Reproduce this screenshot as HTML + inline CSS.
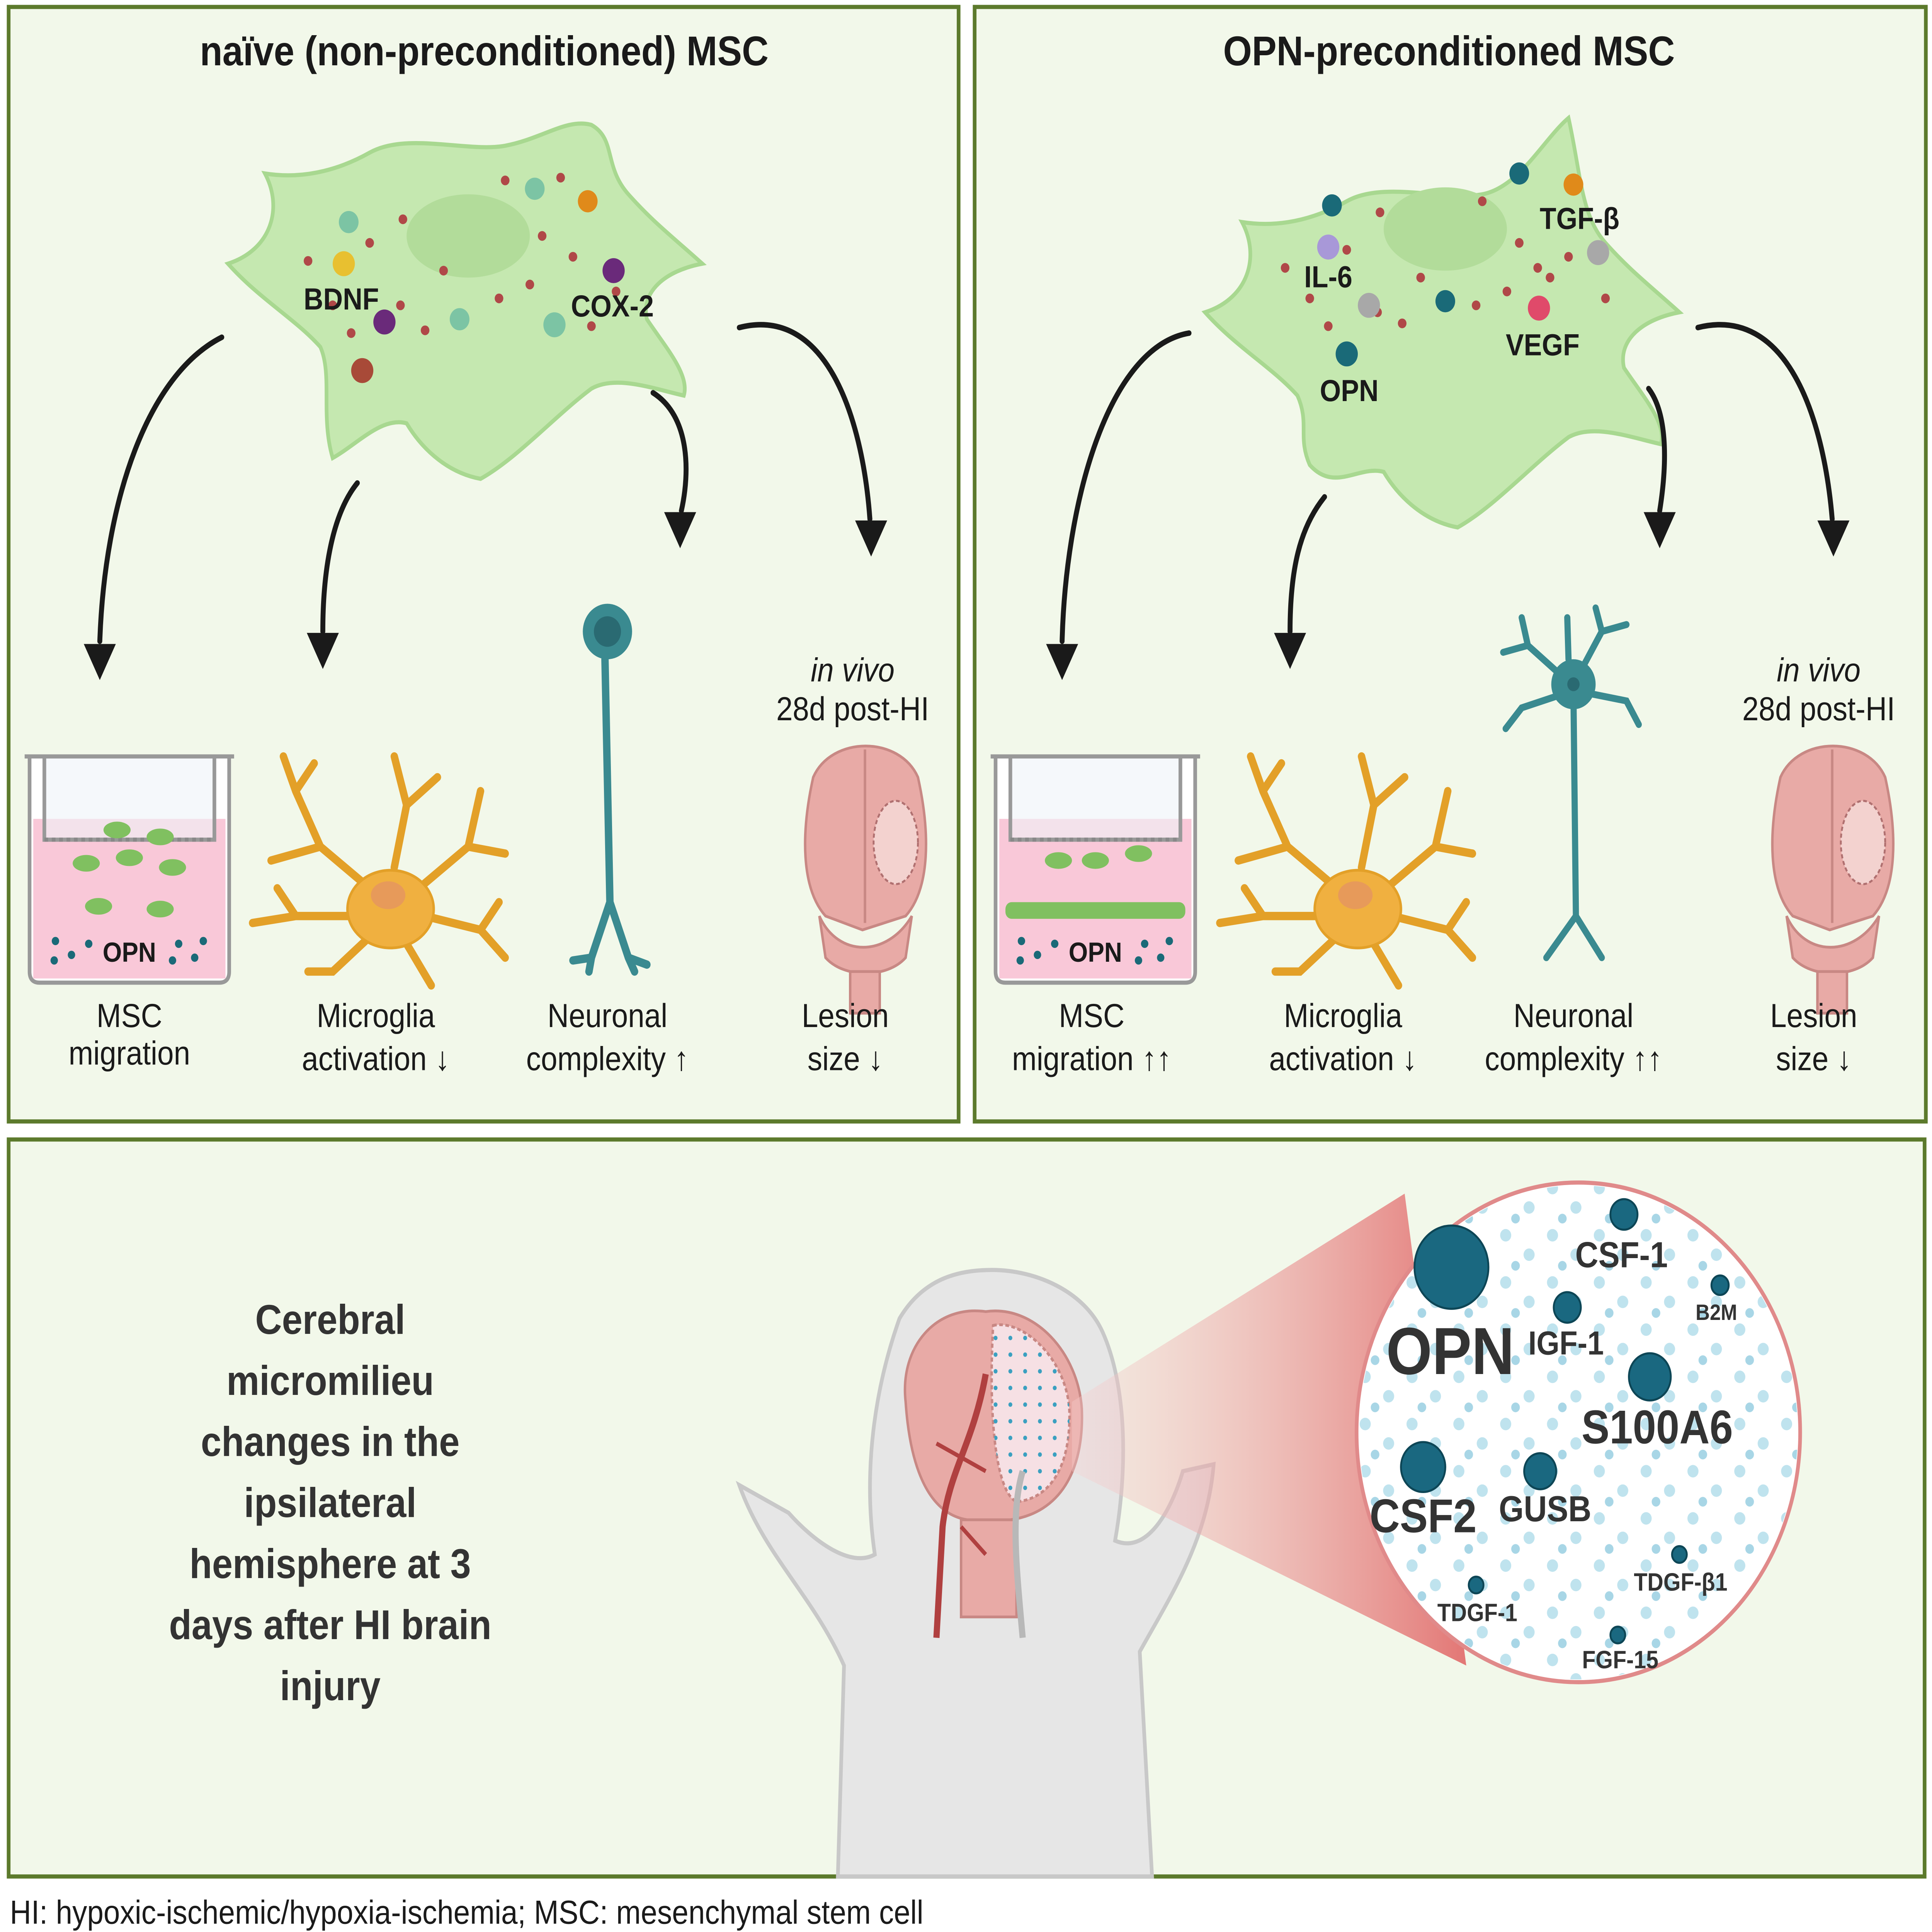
<!DOCTYPE html>
<html><head><meta charset="utf-8"><style>
html,body{margin:0;padding:0;background:#fff;width:100%;height:100%;overflow:hidden}
svg{display:block;width:100vw;height:100vh}
text{font-family:"Liberation Sans",Arial,sans-serif}
</style></head><body>
<svg viewBox="0 0 1568 1392" preserveAspectRatio="none" xmlns="http://www.w3.org/2000/svg">
<defs>
<pattern id="dots" width="38" height="34" patternUnits="userSpaceOnUse">
<circle cx="6" cy="6" r="4.5" fill="#bfe3ee"/><circle cx="25" cy="20" r="4.5" fill="#bfe3ee"/><circle cx="14" cy="28" r="3.5" fill="#a8d6e6"/>
</pattern>
<pattern id="sdots" width="12" height="12" patternUnits="userSpaceOnUse"><circle cx="4" cy="4" r="1.6" fill="#3aa0c0"/></pattern>
<linearGradient id="cone" x1="0" x2="1"><stop offset="0" stop-color="#f6d0d0" stop-opacity="0.4"/><stop offset="1" stop-color="#e06060"/></linearGradient>
<g id="arrowhead"><polygon points="-13,0 13,0 0,26" fill="#1a1a1a"/></g>
</defs>
<rect width="1568" height="1392" fill="#fff"/>
<rect x="7" y="5" width="771" height="803" fill="#f2f8ea" stroke="#5c7a2c" stroke-width="3"/>
<rect x="791" y="5" width="772" height="803" fill="#f2f8ea" stroke="#5c7a2c" stroke-width="3"/>
<rect x="7" y="821" width="1555" height="531" fill="#f2f8ea" stroke="#5c7a2c" stroke-width="3"/>
<text x="393" y="47" font-size="30" font-weight="bold" text-anchor="middle" fill="#1a1a1a">naïve (non-preconditioned) MSC</text>
<text x="1176" y="47" font-size="30" font-weight="bold" text-anchor="middle" fill="#1a1a1a">OPN-preconditioned MSC</text>

<g>
<path d="M185,190 C220,180 230,150 215,125 C250,130 280,120 300,110 C330,95 380,110 410,105 C440,100 460,85 480,90 C500,100 490,120 510,140 C530,160 545,170 570,190 C540,195 520,210 525,230 C540,250 560,270 555,285 C530,280 500,270 480,280 C450,300 420,330 390,345 C360,340 340,320 330,305 C310,300 290,320 270,330 C260,300 270,270 260,250 C240,230 210,215 185,190 Z" fill="#c5e8b0" stroke="#a8d890" stroke-width="3"/>
<ellipse cx="380" cy="170" rx="50" ry="30" fill="#b2dc9a"/>
<g fill="#b04848"><circle cx="250" cy="188" r="3.5"/><circle cx="300" cy="175" r="3.5"/><circle cx="327" cy="158" r="3.5"/><circle cx="410" cy="130" r="3.5"/><circle cx="455" cy="128" r="3.5"/><circle cx="465" cy="185" r="3.5"/><circle cx="430" cy="205" r="3.5"/><circle cx="405" cy="215" r="3.5"/><circle cx="345" cy="238" r="3.5"/><circle cx="285" cy="240" r="3.5"/><circle cx="270" cy="220" r="3.5"/><circle cx="325" cy="220" r="3.5"/><circle cx="480" cy="235" r="3.5"/><circle cx="500" cy="210" r="3.5"/><circle cx="360" cy="195" r="3.5"/><circle cx="440" cy="170" r="3.5"/></g>
<circle cx="283" cy="160" r="8" fill="#7cc4a4"/><circle cx="434" cy="136" r="8" fill="#7cc4a4"/><circle cx="373" cy="230" r="8" fill="#7cc4a4"/><circle cx="450" cy="234" r="9" fill="#7cc4a4"/>
<circle cx="477" cy="145" r="8" fill="#e08a1a"/><circle cx="279" cy="190" r="9" fill="#e8c030"/><circle cx="498" cy="195" r="9" fill="#6a2a7a"/><circle cx="312" cy="232" r="9" fill="#6a2a7a"/><circle cx="294" cy="267" r="9" fill="#a84a38"/>
<text x="277" y="223" font-size="22" font-weight="bold" text-anchor="middle" fill="#1a1a1a">BDNF</text>
<text x="497" y="228" font-size="22" font-weight="bold" text-anchor="middle" fill="#1a1a1a">COX-2</text>
</g>
<g transform="translate(793,35)">
<path d="M185,190 C220,180 230,150 215,125 C250,130 280,120 300,110 C330,95 380,110 410,105 C440,100 460,65 480,50 C490,90 490,120 510,140 C530,160 545,170 570,190 C540,195 520,210 525,230 C540,250 560,270 555,285 C530,280 500,270 480,280 C450,300 420,330 390,345 C360,340 340,320 330,305 C310,300 290,320 270,300 C260,280 270,270 260,250 C240,230 210,215 185,190 Z" fill="#c5e8b0" stroke="#a8d890" stroke-width="3"/>
<ellipse cx="380" cy="130" rx="50" ry="30" fill="#b2dc9a"/>
<g fill="#b04848"><circle cx="250" cy="158" r="3.5"/><circle cx="300" cy="145" r="3.5"/><circle cx="327" cy="118" r="3.5"/><circle cx="410" cy="110" r="3.5"/><circle cx="455" cy="158" r="3.5"/><circle cx="465" cy="165" r="3.5"/><circle cx="430" cy="175" r="3.5"/><circle cx="405" cy="185" r="3.5"/><circle cx="345" cy="198" r="3.5"/><circle cx="285" cy="200" r="3.5"/><circle cx="270" cy="180" r="3.5"/><circle cx="325" cy="190" r="3.5"/><circle cx="480" cy="150" r="3.5"/><circle cx="510" cy="180" r="3.5"/><circle cx="360" cy="165" r="3.5"/><circle cx="440" cy="140" r="3.5"/></g>
<circle cx="288" cy="113" r="8" fill="#1a6a78"/><circle cx="440" cy="90" r="8" fill="#1a6a78"/><circle cx="380" cy="182" r="8" fill="#1a6a78"/><circle cx="300" cy="220" r="9" fill="#1a6a78"/>
<circle cx="484" cy="98" r="8" fill="#e08a1a"/><circle cx="285" cy="143" r="9" fill="#a898d8"/><circle cx="318" cy="185" r="9" fill="#a8a8a8"/><circle cx="504" cy="147" r="9" fill="#a8a8a8"/><circle cx="456" cy="187" r="9" fill="#e04a6a"/>
</g>
<text x="1078" y="207" font-size="22" font-weight="bold" text-anchor="middle" fill="#1a1a1a">IL-6</text>
<text x="1282" y="165" font-size="22" font-weight="bold" text-anchor="middle" fill="#1a1a1a">TGF-β</text>
<text x="1252" y="256" font-size="22" font-weight="bold" text-anchor="middle" fill="#1a1a1a">VEGF</text>
<text x="1095" y="289" font-size="22" font-weight="bold" text-anchor="middle" fill="#1a1a1a">OPN</text>

<g fill="none" stroke="#1a1a1a" stroke-width="4" stroke-linecap="round">
<path d="M180,243 C120,270 85,360 81,462"/>
<path d="M290,348 C270,370 262,410 262,455"/>
<path d="M530,283 C560,300 560,340 553,368"/>
<path d="M600,236 C670,220 700,300 706,374"/>
<path d="M965,240 C900,250 865,360 862,462"/>
<path d="M1075,358 C1055,380 1047,410 1047,455"/>
<path d="M1338,280 C1355,300 1352,340 1347,368"/>
<path d="M1378,236 C1450,220 1480,300 1487,374"/>
</g>
<use href="#arrowhead" x="81" y="464"/><use href="#arrowhead" x="262" y="456"/><use href="#arrowhead" x="552" y="369"/><use href="#arrowhead" x="707" y="375"/>
<use href="#arrowhead" x="862" y="464"/><use href="#arrowhead" x="1047" y="456"/><use href="#arrowhead" x="1347" y="369"/><use href="#arrowhead" x="1488" y="375"/>

<g id="tw">
<path d="M24,545 L24,700 Q24,708 32,708 L178,708 Q186,708 186,700 L186,545" fill="#fff" stroke="#999" stroke-width="3"/>
<rect x="27" y="590" width="156" height="115" fill="#f9c8d8"/>
<path d="M36,545 L36,605 L174,605 L174,545" fill="#eef3f8" stroke="#999" stroke-width="3" fill-opacity="0.6"/>
<line x1="20" y1="545" x2="190" y2="545" stroke="#999" stroke-width="3"/>
<line x1="36" y1="605" x2="174" y2="605" stroke="#888" stroke-width="3" stroke-dasharray="3 3"/>
</g>
<g fill="#80c060"><ellipse cx="95" cy="598" rx="11" ry="6"/><ellipse cx="130" cy="603" rx="11" ry="6"/><ellipse cx="70" cy="622" rx="11" ry="6"/><ellipse cx="105" cy="618" rx="11" ry="6"/><ellipse cx="140" cy="625" rx="11" ry="6"/><ellipse cx="80" cy="653" rx="11" ry="6"/><ellipse cx="130" cy="655" rx="11" ry="6"/></g>
<g fill="#1a6a78"><circle cx="45" cy="678" r="3"/><circle cx="58" cy="688" r="3"/><circle cx="72" cy="680" r="3"/><circle cx="44" cy="692" r="3"/><circle cx="145" cy="680" r="3"/><circle cx="158" cy="690" r="3"/><circle cx="165" cy="678" r="3"/><circle cx="140" cy="692" r="3"/></g>
<text x="105" y="693" font-size="20" font-weight="bold" text-anchor="middle" fill="#1a1a1a">OPN</text>
<g transform="translate(784,0)">
<use href="#tw"/>
<g fill="#80c060"><ellipse cx="75" cy="620" rx="11" ry="6"/><ellipse cx="105" cy="620" rx="11" ry="6"/><ellipse cx="140" cy="615" rx="11" ry="6"/><rect x="32" y="650" width="146" height="12" rx="5"/></g>
<g fill="#1a6a78"><circle cx="45" cy="678" r="3"/><circle cx="58" cy="688" r="3"/><circle cx="72" cy="680" r="3"/><circle cx="44" cy="692" r="3"/><circle cx="145" cy="680" r="3"/><circle cx="158" cy="690" r="3"/><circle cx="165" cy="678" r="3"/><circle cx="140" cy="692" r="3"/></g>
<text x="105" y="693" font-size="20" font-weight="bold" text-anchor="middle" fill="#1a1a1a">OPN</text>
</g>

<g id="mg" stroke="#e3a028" stroke-width="6" fill="none" stroke-linecap="round">
<path d="M300,640 L260,610 L240,570 M260,610 L220,620 M240,570 L255,550 M240,570 L230,545"/>
<path d="M320,625 L330,580 L320,545 M330,580 L355,560"/>
<path d="M340,640 L380,610 L390,570 M380,610 L410,615"/>
<path d="M345,660 L390,670 L410,690 M390,670 L405,650"/>
<path d="M330,680 L350,710 M300,675 L270,700 L250,700 M290,660 L240,660 L205,665 M240,660 L225,640"/>
<ellipse cx="317" cy="655" rx="35" ry="28" fill="#f0b040" stroke="#e3a028" stroke-width="2"/>
<ellipse cx="315" cy="645" rx="14" ry="10" fill="#e79a5a" stroke="none"/>
</g>
<use href="#mg" x="785" y="0"/>

<path d="M491,475 L495,650 M495,650 L480,690 M495,650 L510,690 M480,690 L465,692 M480,690 L478,700 M510,690 L525,695 M510,690 L515,700" stroke="#3a8a90" stroke-width="6" fill="none" stroke-linecap="round"/>
<circle cx="493" cy="455" r="20" fill="#3a8a90"/><circle cx="493" cy="455" r="11" fill="#2a6a72"/>
<g stroke="#3a8a90" stroke-width="5" fill="none" stroke-linecap="round">
<path d="M1277,500 L1279,660 M1279,660 L1255,690 M1279,660 L1300,690"/>
<path d="M1265,485 L1240,465 L1220,470 M1240,465 L1235,445 M1285,480 L1300,455 L1320,450 M1300,455 L1295,438 M1292,500 L1320,505 L1330,522 M1262,502 L1235,510 L1222,525 M1273,475 L1272,445"/>
</g>
<circle cx="1277" cy="493" r="18" fill="#3a8a90"/><circle cx="1277" cy="493" r="5" fill="#2a6a72"/>

<g id="br">
<path d="M660,560 C650,600 650,640 670,660 L700,670 L735,660 C755,640 755,600 745,560 C730,530 675,530 660,560 Z" fill="#e8aaa6" stroke="#c88884" stroke-width="2"/>
<line x1="702" y1="540" x2="702" y2="665" stroke="#c88884" stroke-width="2"/>
<path d="M665,660 C680,690 720,690 740,660 L735,690 C720,705 685,705 670,690 Z" fill="#e8aaa6" stroke="#c88884" stroke-width="2"/>
<rect x="690" y="700" width="24" height="30" fill="#e8aaa6" stroke="#c88884" stroke-width="2"/>
</g>
<ellipse cx="727" cy="607" rx="18" ry="30" fill="#f3d2cf" stroke="#b07070" stroke-width="1.5" stroke-dasharray="3 2"/>
<use href="#br" x="785" y="0"/>
<ellipse cx="1512" cy="607" rx="18" ry="30" fill="#f3d2cf" stroke="#b07070" stroke-width="1.5" stroke-dasharray="3 2"/>

<g font-size="24" text-anchor="middle" fill="#1a1a1a">
<text x="692" y="491" font-style="italic">in vivo</text><text x="692" y="519">28d post-HI</text>
<text x="1476" y="491" font-style="italic">in vivo</text><text x="1476" y="519">28d post-HI</text>
<text x="105" y="740">MSC</text><text x="105" y="767">migration</text>
<text x="305" y="740">Microglia</text><text x="305" y="771">activation ↓</text>
<text x="493" y="740">Neuronal</text><text x="493" y="771">complexity ↑</text>
<text x="686" y="740">Lesion</text><text x="686" y="771">size ↓</text>
<text x="886" y="740">MSC</text><text x="886" y="771">migration ↑↑</text>
<text x="1090" y="740">Microglia</text><text x="1090" y="771">activation ↓</text>
<text x="1277" y="740">Neuronal</text><text x="1277" y="771">complexity ↑↑</text>
<text x="1472" y="740">Lesion</text><text x="1472" y="771">size ↓</text>
</g>

<g font-size="30" font-weight="bold" text-anchor="middle" fill="#333">
<text x="268" y="961">Cerebral</text><text x="268" y="1005">micromilieu</text><text x="268" y="1049">changes in the</text><text x="268" y="1093">ipsilateral</text><text x="268" y="1137">hemisphere at 3</text><text x="268" y="1181">days after HI brain</text><text x="268" y="1225">injury</text>
</g>

<g fill="#e6e6e6" stroke="#c8c8c8" stroke-width="3">
<path d="M680,1352 L685,1200 C660,1150 620,1120 600,1070 L640,1090 C660,1110 690,1130 710,1120 C700,1060 710,1000 730,950 C750,920 780,915 805,915 C840,915 880,930 895,960 C915,1000 915,1060 905,1110 C930,1120 950,1090 960,1060 L985,1055 C980,1110 950,1150 925,1190 L935,1352 Z"/>
</g>
<path d="M735,1010 C730,970 760,940 800,945 C840,940 875,975 878,1015 C880,1060 860,1090 820,1095 L785,1095 C750,1090 738,1050 735,1010 Z" fill="#e8aaa6" stroke="#c88884" stroke-width="2"/>
<path d="M806,955 C830,950 868,980 868,1020 C868,1060 850,1080 825,1082 C808,1075 802,1020 806,955 Z" fill="#f6e0e4" stroke="#c88884" stroke-width="2" stroke-dasharray="3 2"/>
<path d="M806,955 C830,950 868,980 868,1020 C868,1060 850,1080 825,1082 C808,1075 802,1020 806,955 Z" fill="url(#sdots)"/>
<rect x="780" y="1095" width="45" height="70" fill="#e8aaa6" stroke="#c88884" stroke-width="2"/>
<path d="M800,990 C790,1040 770,1060 765,1100 L760,1180" stroke="#b04040" stroke-width="5" fill="none"/>
<path d="M830,1060 C820,1090 825,1130 830,1180" stroke="#b8b8b8" stroke-width="5" fill="none"/>
<path d="M760,1040 L800,1060 M780,1100 L800,1120" stroke="#b04040" stroke-width="3" fill="none"/>

<polygon points="870,1010 1140,860 1190,1200 870,1060" fill="url(#cone)" opacity="0.85"/>
<circle cx="1281" cy="1032" r="180" fill="#fff" stroke="#e08a8a" stroke-width="3"/>
<circle cx="1281" cy="1032" r="178" fill="url(#dots)"/>
<g fill="#1a6880" stroke="#0d4656" stroke-width="1.5">
<circle cx="1178" cy="913" r="30"/><circle cx="1318" cy="875" r="11"/><circle cx="1396" cy="926" r="7"/><circle cx="1272" cy="942" r="11"/><circle cx="1339" cy="992" r="17"/><circle cx="1155" cy="1057" r="18"/><circle cx="1250" cy="1060" r="13"/><circle cx="1363" cy="1120" r="6"/><circle cx="1198" cy="1142" r="6"/><circle cx="1313" cy="1178" r="6"/>
</g>
<g font-weight="bold" fill="#333" text-anchor="middle">
<text x="1177" y="990" font-size="48">OPN</text>
<text x="1316" y="913" font-size="26">CSF-1</text>
<text x="1393" y="951" font-size="16">B2M</text>
<text x="1271" y="976" font-size="24">IGF-1</text>
<text x="1345" y="1040" font-size="34">S100A6</text>
<text x="1155" y="1104" font-size="34">CSF2</text>
<text x="1254" y="1096" font-size="26">GUSB</text>
<text x="1364" y="1146" font-size="18">TDGF-β1</text>
<text x="1199" y="1168" font-size="18">TDGF-1</text>
<text x="1315" y="1202" font-size="18">FGF-15</text>
</g>

<text x="8" y="1386" font-size="24" fill="#1a1a1a">HI: hypoxic-ischemic/hypoxia-ischemia; MSC: mesenchymal stem cell</text>
</svg>
</body></html>
